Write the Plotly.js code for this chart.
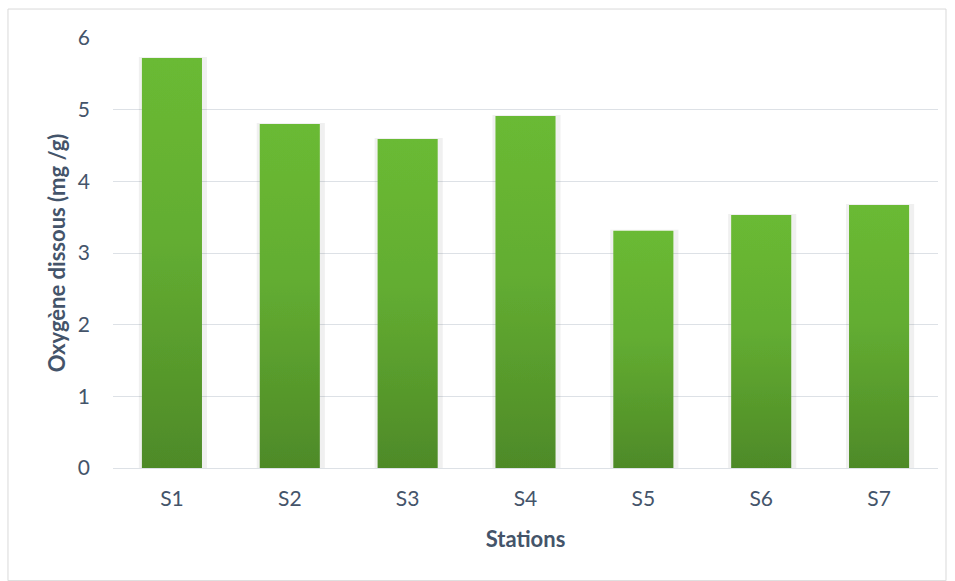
<!DOCTYPE html>
<html>
<head>
<meta charset="utf-8">
<script src="https://cdn.plot.ly/plotly-3.0.1.min.js"></script>
<style>
html,body{margin:0;padding:0;background:#fff;}
#chart{width:955px;height:581px;}
</style>
</head>
<body>
<div id="chart"></div>
<script>
const stations = ["S1", "S2", "S3", "S4", "S5", "S6", "S7"];
const oxygen = [5.72, 4.80, 4.59, 4.91, 3.31, 3.53, 3.67];
const yTicks = [0, 1, 2, 3, 4, 5, 6];

const FONT = "Lato, 'Open Sans', sans-serif";
const TXT = "#44546a";
const data = [{
  type: "bar",
  x: stations,
  y: oxygen,
  marker: {color: "#5ea130", line: {width: 0}},
  hoverinfo: "x+y"
}];

const layout = {
  width: 955, height: 581,
  margin: {l: 113, r: 17, t: 38, b: 113},
  paper_bgcolor: "#ffffff",
  plot_bgcolor: "#ffffff",
  bargap: 0.49,
  showlegend: false,
  font: {family: FONT, color: TXT, size: 21},
  xaxis: {
    type: "category",
    showgrid: false,
    zeroline: false,
    showline: false,
    ticks: "",
    ticklabelstandoff: 16,
    tickfont: {family: FONT, size: 21, color: TXT},
    title: {text: "<b>Stations</b>", font: {family: FONT, size: 22, color: TXT}, standoff: 22}
  },
  yaxis: {
    range: [0, 6],
    tickvals: yTicks,
    ticktext: yTicks.map(String),
    showgrid: true,
    gridcolor: "#dde1e6",
    gridwidth: 1,
    zeroline: true,
    zerolinecolor: "#dde1e6",
    zerolinewidth: 1,
    showline: false,
    ticks: "",
    ticklabelstandoff: 22,
    tickfont: {family: FONT, size: 21, color: TXT},
    title: {text: "<b>Oxygène dissous (mg /g)</b>", font: {family: FONT, size: 22, color: TXT}, standoff: 6}
  },
  shapes: [{
    type: "rect", xref: "paper", yref: "paper",
    x0: -0.1273, x1: 1.0097, y0: -0.262, y1: 1.0674,
    line: {color: "#d9d9d9", width: 1}, fillcolor: "rgba(0,0,0,0)", layer: "below"
  }]
};

Plotly.newPlot("chart", data, layout, {displayModeBar: false}).then(function(gd){
  const svg = gd.querySelector("svg.main-svg");
  const NS = "http://www.w3.org/2000/svg";
  let defs = svg.querySelector("defs");
  if (!defs) { defs = document.createElementNS(NS, "defs"); svg.insertBefore(defs, svg.firstChild); }
  const grad = document.createElementNS(NS, "linearGradient");
  grad.setAttribute("id", "barGrad");
  grad.setAttribute("x1", "0"); grad.setAttribute("y1", "0");
  grad.setAttribute("x2", "0"); grad.setAttribute("y2", "1");
  [["0", "#6aba34"], ["0.45", "#63ad31"], ["1", "#4e8a28"]].forEach(function(s){
    const st = document.createElementNS(NS, "stop");
    st.setAttribute("offset", s[0]); st.setAttribute("stop-color", s[1]);
    grad.appendChild(st);
  });
  defs.appendChild(grad);
  const filt = document.createElementNS(NS, "filter");
  filt.setAttribute("id", "barShadow");
  filt.setAttribute("x", "-20%"); filt.setAttribute("y", "-5%");
  filt.setAttribute("width", "140%"); filt.setAttribute("height", "110%");
  filt.innerHTML = '<feMorphology in="SourceAlpha" operator="dilate" radius="4" result="d"/>' +
    '<feOffset in="d" dx="1" dy="3" result="o"/>' +
    '<feFlood flood-color="#000" flood-opacity="0.06"/>' +
    '<feComposite in2="o" operator="in" result="s"/>' +
    '<feMerge><feMergeNode in="s"/><feMergeNode in="SourceGraphic"/></feMerge>';
  defs.appendChild(filt);
  gd.querySelectorAll(".trace.bars .point path").forEach(function(p){
    p.style.fill = "url(#barGrad)";
    p.setAttribute("filter", "url(#barShadow)");
  });
});
</script>
</body>
</html>
